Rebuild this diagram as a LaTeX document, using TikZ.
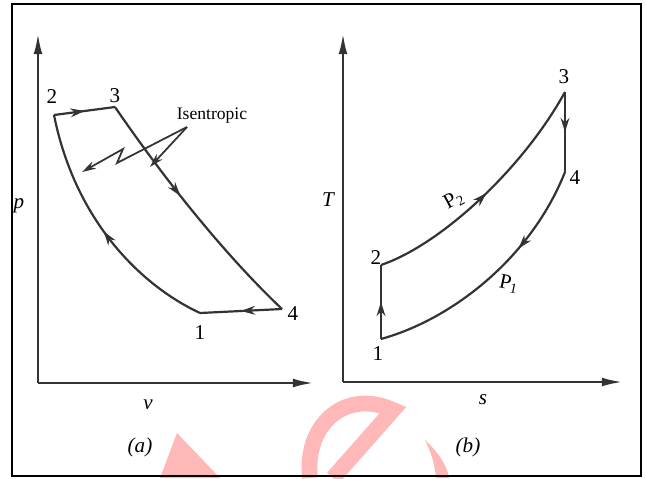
\documentclass[tikz,border=0pt]{standalone}
\usepackage{fontspec}
\setmainfont{Liberation Serif}
\usetikzlibrary{arrows.meta,decorations.markings}
\tikzset{
  axis/.style={line width=1.5pt, draw=black!80, -{Latex[length=12pt,width=5pt]}},
  cyclepath/.style={line width=1.25pt, draw=black!80},
  midarrow/.style={postaction={decorate},
    decoration={markings,mark=at position #1 with {\arrow{Stealth[length=8pt,width=5pt]}}}},
  midarrow/.default=0.5,
  pointer/.style={line width=1pt, draw=black!80, -{Stealth[length=8pt,width=4.5pt]}},
  num/.style={font=\large},
  axlabel/.style={font=\large\itshape},
  wmark/.style={fill=red!28, draw=none},
}
\begin{document}
\begin{tikzpicture}[x=0.02cm, y=-0.02cm]
\useasboundingbox (0,0) rectangle (646,478);
% watermark
\fill[wmark] (177,433) -- (220,478) -- (160,478) -- cycle;
\draw[red!28, line width=9pt] (310,478) .. controls (304,425) and (345,388) .. (393,410) -- (333,478);
\fill[wmark] (425,440) .. controls (438,452) and (447,465) .. (449,478) -- (436,478) .. controls (435,465) and (431,452) .. (425,440) -- cycle;
\draw[line width=1.4pt] (12,4) rectangle (641,476);

% (a) p-v diagram
\coordinate (oa) at (38,383);
\coordinate (pa) at (38,33);
\coordinate (va) at (314,383);
\draw[axis] (oa) -- (pa);
\draw[axis] (oa) -- (va);
\coordinate (a1) at (200,313);
\coordinate (a2) at (54,115);
\coordinate (a3) at (115,107);
\coordinate (a4) at (282,309);
\draw[cyclepath, midarrow] (a1) .. controls (140,285) and (75,220) .. (a2);
\draw[cyclepath, midarrow] (a2) -- (a3);
\draw[cyclepath, midarrow=0.42] (a3) .. controls (165,180) and (225,255) .. (a4);
\draw[cyclepath, midarrow] (a4) -- (a1);
\node[num] (la1) at (200,333) {1};
\node[num] (la2) at (52,97) {2};
\node[num] (la3) at (115,96) {3};
\node[num] (la4) at (293,314) {4};
\node (isen) at (212,116) {Isentropic};
\coordinate (isoA) at (187,127);
\coordinate (zigA) at (117,163);
\coordinate (zigB) at (123,149);
\coordinate (zigEnd) at (82,172);
\coordinate (isoEnd) at (150,167);
\draw[pointer] (isoA) -- (zigA) -- (zigB) -- (zigEnd);
\draw[pointer] (isoA) -- (isoEnd);
\node[axlabel] (lp) at (19,206) {p};
\node[axlabel] (lv) at (148,405) {v};
\node[axlabel] (capa) at (140,447) {(a)};

% (b) T-s diagram
\coordinate (ob) at (343,382);
\coordinate (tb) at (343,33);
\coordinate (sb) at (623,382);
\draw[axis] (ob) -- (tb);
\draw[axis] (ob) -- (sb);
\coordinate (b1) at (381,339);
\coordinate (b2) at (381,265);
\coordinate (b3) at (565,92);
\coordinate (b4) at (565,172);
\draw[cyclepath, midarrow] (b1) -- (b2);
\draw[cyclepath, midarrow] (b2) .. controls (440,245) and (522,170) .. (b3);
\draw[cyclepath, midarrow] (b3) -- (b4);
\draw[cyclepath, midarrow=0.35] (b4) .. controls (530,260) and (450,320) .. (b1);
\node[num] (lb1) at (378,354) {1};
\node[num] (lb2) at (376,258) {2};
\node[num] (lb3) at (564,77) {3};
\node[num] (lb4) at (575,178) {4};
\node[rotate=28, font=\large, inner sep=1pt] (lp2) at (454,200) {P\textsubscript{2}};
\node[rotate=-12, font=\large, inner sep=1pt] (lp1) at (509,284) {P\textsubscript{1}};
\node[axlabel] (lt) at (328,200) {T};
\node[axlabel] (ls) at (483,400) {s};
\node[axlabel] (capb) at (468,447) {(b)};
\end{tikzpicture}
\end{document}
